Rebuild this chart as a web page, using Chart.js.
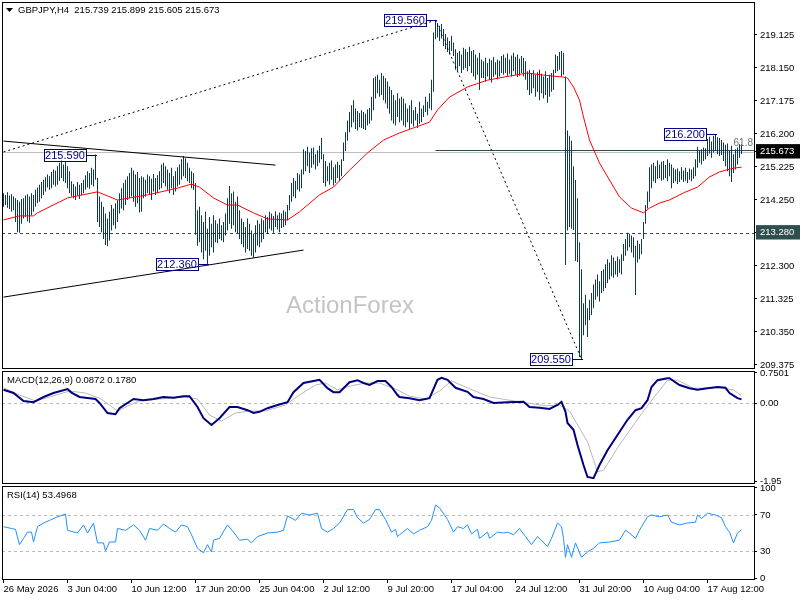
<!DOCTYPE html>
<html>
<head>
<meta charset="utf-8">
<script src="https://cdn.jsdelivr.net/npm/chart.js@4/dist/chart.umd.min.js"></script>
<style>
  html, body { margin: 0; background: #fff; }
  canvas { position: absolute; left: 0; top: 0; }
</style>
</head>
<body>
<canvas id="main" width="800" height="600"></canvas>
<canvas id="macd" width="800" height="600"></canvas>
<canvas id="rsi" width="800" height="600"></canvas>
<script>
// ---- data (bar index = H4 bar, 0 = 26 May 2026) ----
const symbol = "GBPJPY,H4";
const ohlcLast = [215.739, 215.899, 215.605, 215.673];

const highs = [
  214.45, 214.40, 214.48, 214.38, 214.42, 214.35, 214.30, 214.25, 214.20, 214.28,
  214.30, 214.38, 214.42, 214.35, 214.45, 214.40, 214.55, 214.62, 214.70, 214.78,
  214.85, 214.92, 215.00, 214.95, 215.08, 215.15, 215.12, 215.25, 215.35, 215.42,
  215.30, 215.38, 215.25, 215.10, 214.80, 214.72, 214.65, 214.78, 214.70, 214.75,
  214.85, 214.98, 215.10, 215.05, 215.20, 215.15, 215.59, 214.90, 214.35, 214.20,
  214.05, 213.85, 213.70, 213.90, 214.10, 214.00, 214.15, 214.25, 214.45, 214.60,
  214.75, 214.85, 214.95, 215.05, 215.20, 215.12, 215.00, 215.08, 214.90, 214.95,
  214.92, 214.85, 215.00, 214.95, 214.88, 215.02, 214.90, 214.98, 215.10, 215.30,
  215.35, 215.25, 215.15, 215.05, 215.20, 214.95, 215.10, 215.22, 215.30, 215.45,
  215.55, 215.48, 215.35, 215.20, 215.10, 215.05, 214.75, 213.95, 214.05, 213.80,
  213.60, 213.90, 213.40, 213.75, 213.55, 213.80, 213.65, 213.55, 213.70, 213.50,
  213.60, 213.85, 214.30, 214.66, 214.45, 214.50, 214.20, 214.35, 213.95, 213.70,
  213.60, 213.45, 213.70, 213.55, 213.35, 213.25, 213.50, 213.65, 213.55, 213.70,
  213.65, 213.80, 213.75, 213.90, 213.85, 213.78, 213.92, 213.80, 213.88, 213.85,
  213.95, 213.90, 214.10, 214.40, 214.75, 214.90, 214.82, 215.05, 215.00, 215.15,
  215.75, 215.70, 215.82, 215.65, 215.78, 215.80, 215.60, 215.72, 215.85, 216.08,
  215.60, 215.40, 215.25, 215.35, 215.42, 215.22, 215.30, 215.38, 215.28, 215.45,
  215.95, 216.25, 216.60, 216.85, 217.05, 217.20, 216.95, 216.88, 216.82, 216.90,
  216.85, 216.80, 216.92, 216.97, 217.30, 217.85, 217.90, 217.95, 217.80, 218.00,
  217.92, 217.85, 217.75, 217.60, 217.50, 217.35, 217.20, 217.40, 217.25, 217.30,
  217.25, 217.10, 216.95, 217.05, 217.20, 216.90, 217.00, 216.80, 217.15, 216.95,
  217.05, 217.30, 217.15, 217.40, 217.80, 219.20, 219.56, 219.48, 219.40, 219.45,
  219.30, 219.15, 219.05, 218.95, 219.10, 218.90, 218.70, 218.60, 218.65, 218.55,
  218.75, 218.70, 218.62, 218.78, 218.65, 218.68, 218.55, 218.45, 218.60, 218.40,
  218.35, 218.45, 218.30, 218.42, 218.38, 218.47, 218.32, 218.40, 218.36, 218.50,
  218.55, 218.45, 218.58, 218.40, 218.52, 218.60, 218.48, 218.55, 218.42, 218.50,
  218.45, 218.35, 218.05, 218.10, 218.00, 218.08, 217.95, 218.02, 218.10, 217.98,
  217.90, 218.05, 217.85, 217.95, 218.00, 218.10, 218.55, 218.50, 218.62, 218.65,
  218.60, 217.90, 216.30, 216.15, 216.00, 215.25, 214.84, 214.30, 213.00, 212.20,
  211.20, 211.45, 211.05, 211.30, 211.50, 211.75, 211.90, 212.05, 211.85, 212.15,
  212.20, 212.35, 212.50, 212.40, 212.62, 212.55, 212.45, 212.58, 212.50, 212.65,
  212.95, 213.10, 213.28, 213.25, 213.20, 213.15, 212.90, 213.05, 212.95, 213.10,
  213.60, 214.10, 214.50, 215.22, 215.30, 215.35, 215.25, 215.42, 215.30, 215.38,
  215.40, 215.28, 215.45, 215.35, 215.30, 215.20, 215.15, 215.18, 215.10, 215.22,
  215.12, 215.20, 215.08, 215.18, 215.15, 215.22, 215.45, 215.82, 215.70, 215.75,
  215.80, 215.78, 216.05, 216.12, 215.98, 216.15, 216.20, 216.10, 216.08, 216.02,
  215.95, 215.88, 215.92, 215.70, 215.85, 215.60, 215.75, 215.80, 215.90, 215.899
];
const lows = [
  214.05, 214.10, 214.02, 213.98, 213.90, 213.95, 213.60, 213.30, 213.28, 213.55,
  213.70, 213.75, 213.62, 213.58, 213.80, 213.90, 214.05, 214.15, 214.20, 214.30,
  214.40, 214.50, 214.62, 214.55, 214.60, 214.70, 214.65, 214.70, 214.82, 214.90,
  214.80, 214.75, 214.60, 214.45, 214.35, 214.30, 214.25, 214.38, 214.28, 214.40,
  214.45, 214.55, 214.62, 214.58, 214.70, 214.65, 214.85, 213.60, 213.45, 213.30,
  213.10, 212.92, 212.88, 213.05, 213.35, 213.50, 213.40, 213.60, 213.85, 214.00,
  213.95, 214.10, 214.25, 214.30, 214.35, 214.20, 214.05, 214.15, 213.88, 213.90,
  214.30, 214.35, 214.45, 214.40, 214.25, 214.50, 214.40, 214.45, 214.55, 214.60,
  214.75, 214.65, 214.55, 214.45, 214.60, 214.40, 214.50, 214.65, 214.70, 214.85,
  214.95, 214.90, 214.80, 214.75, 214.60, 214.55, 213.22, 212.90, 213.00, 212.70,
  212.50, 212.75, 212.36, 212.60, 212.85, 212.70, 213.00, 212.98, 213.10, 213.05,
  213.00, 213.20, 213.35, 213.55, 213.40, 213.50, 213.30, 213.25, 213.10, 212.95,
  212.85, 212.70, 212.80, 212.75, 212.60, 212.54, 212.70, 212.90, 212.85, 213.00,
  213.10, 213.30, 213.25, 213.40, 213.35, 213.28, 213.45, 213.38, 213.30, 213.42,
  213.45, 213.50, 213.65, 213.95, 214.20, 214.35, 214.30, 214.55, 214.50, 214.60,
  215.00, 215.10, 215.25, 215.05, 215.20, 215.30, 215.15, 215.25, 215.35, 215.45,
  214.75, 214.65, 214.80, 214.70, 214.85, 214.68, 214.75, 214.90, 214.80, 214.95,
  215.40, 215.70, 216.00, 216.25, 216.40, 216.55, 216.35, 216.30, 216.40, 216.38,
  216.35, 216.32, 216.45, 216.50, 216.60, 216.90, 217.25, 217.40, 217.30, 217.35,
  217.20, 217.10, 216.95, 216.80, 216.60, 216.50, 216.45, 216.70, 216.55, 216.60,
  216.45, 216.40, 216.55, 216.35, 216.50, 216.42, 216.60, 216.38, 216.50, 216.55,
  216.70, 216.85, 216.75, 216.95, 216.90, 217.45, 219.00, 219.05, 218.95, 219.02,
  218.80, 218.70, 218.62, 218.55, 218.65, 218.50, 218.10, 218.05, 218.20, 218.00,
  218.10, 218.15, 218.05, 218.20, 218.00, 217.90, 217.80, 217.95, 217.50, 217.85,
  217.85, 217.75, 217.90, 217.80, 217.72, 217.88, 217.95, 217.82, 217.90, 218.00,
  217.95, 218.00, 217.92, 217.98, 217.90, 218.05, 217.95, 217.88, 217.92, 218.00,
  217.90, 217.80, 217.50, 217.35, 217.40, 217.55, 217.30, 217.45, 217.20, 217.40,
  217.25, 217.35, 217.12, 217.30, 217.45, 217.50, 218.00, 218.05, 218.10, 217.90,
  217.95, 212.33, 213.35, 213.45, 213.40, 213.36, 212.45, 212.42, 209.62, 209.55,
  210.25, 210.55, 210.20, 210.70, 210.85, 211.05, 211.30, 211.40, 211.25, 211.50,
  211.55, 211.65, 211.80, 211.90, 212.00, 211.95, 212.05, 211.98, 212.10, 212.05,
  212.45, 212.60, 212.75, 212.85, 212.70, 212.55, 211.44, 212.40, 212.50, 212.65,
  213.10, 213.55, 214.00, 214.20, 214.60, 214.80, 214.75, 214.88, 214.90, 214.82,
  214.85, 214.90, 214.80, 214.95, 214.60, 214.75, 214.80, 214.72, 214.78, 214.85,
  214.78, 214.82, 214.75, 214.85, 214.80, 214.88, 214.95, 215.20, 215.35, 215.30,
  215.40, 215.45, 215.55, 215.62, 215.50, 215.65, 215.70, 215.60, 215.55, 215.58,
  215.40, 215.25, 215.10, 214.95, 214.78, 215.05, 215.15, 215.30, 215.50, 215.605
];

// red moving average, sampled
const maIdx = [0, 8, 15, 17, 32, 47, 57, 72, 87, 94, 98, 105, 112, 117, 125, 132, 142, 148, 158, 165,
  173, 182, 190, 198, 213, 217, 223, 232, 242, 253, 262, 270, 280, 282, 285, 288, 290, 293, 298, 303,
  308, 314, 320, 323, 328, 333, 340, 347, 353, 358, 365, 369];
const maVal = [213.66, 213.78, 213.78, 213.87, 214.31, 214.49, 214.25, 214.40, 214.60, 214.72, 214.63, 214.31, 214.10, 214.10, 213.87, 213.69, 213.66, 213.90, 214.40, 214.63,
  215.13, 215.64, 216.02, 216.23, 216.55, 216.91, 217.29, 217.59, 217.79, 217.91, 218.00, 217.94, 217.88, 217.85, 217.59, 217.20, 216.70, 216.02, 215.34, 214.84,
  214.34, 214.01, 213.87, 214.01, 214.16, 214.25, 214.46, 214.63, 214.93, 215.08, 215.19, 215.22];

// drawn objects
const resistIdx = [0, 136], resistVal = [215.99, 215.28];
const supportIdx = [0, 150], supportVal = [211.38, 212.77];
const riseIdx = [0, 216], riseVal = [215.67, 219.56];
const fallIdx = [216, 289], fallVal = [219.56, 209.55];
const markIdx = [46, 102, 216, 289, 356];
const markVal = [215.590, 212.360, 219.560, 209.550, 216.200];
const supportLevel = 213.280;
const fibFrom = 216, fibLevel = 215.736, fibText = "61.8";
const watermark = "ActionForex";

const priceTicks = [209.375, 210.350, 211.325, 212.300, 213.280, 214.250, 215.225, 215.673, 216.200, 217.175, 218.150, 219.125];
const priceBoxes = [215.673, 213.280];
const priceBoxColors = ["#000000", "#2f4f4f"];

// MACD(12,26,9)
const macdIdx = [0, 5, 10, 15, 20, 25, 32, 34, 38, 46, 48, 52, 56, 58, 65, 70, 75, 80, 85, 90,
  93, 97, 100, 104, 108, 113, 117, 122, 125, 128, 132, 137, 142, 145, 150, 155, 158, 162, 165, 168,
  173, 177, 180, 183, 187, 191, 194, 197, 198, 203, 208, 213, 217, 219, 222, 226, 232, 235, 240, 245,
  252, 260, 263, 268, 273, 277, 279, 281, 282, 285, 287, 290, 292, 295, 298, 302, 307, 312, 316, 319,
  322, 324, 327, 332, 333, 338, 343, 347, 352, 357, 361, 363, 367, 369];
const macdVal = [0.33, 0.25, 0.05, 0.02, 0.15, 0.25, 0.35, 0.26, 0.15, 0.10, 0.00, -0.25, -0.28, -0.13, 0.10, 0.07, 0.10, 0.15, 0.13, 0.17,
  0.17, -0.10, -0.38, -0.55, -0.38, -0.10, -0.10, -0.18, -0.25, -0.22, -0.13, -0.05, 0.02, 0.27, 0.50, 0.55, 0.58, 0.37, 0.27, 0.27,
  0.52, 0.57, 0.50, 0.45, 0.55, 0.55, 0.40, 0.20, 0.15, 0.12, 0.07, 0.12, 0.58, 0.63, 0.58, 0.38, 0.28, 0.15, 0.10, 0.00,
  0.02, 0.03, -0.10, -0.12, -0.15, -0.05, 0.03, -0.22, -0.50, -0.67, -1.05, -1.55, -1.85, -1.88, -1.55, -1.18, -0.80, -0.42, -0.18, -0.13,
  0.07, 0.40, 0.57, 0.62, 0.62, 0.45, 0.37, 0.33, 0.37, 0.40, 0.38, 0.25, 0.12, 0.09];
const signalIdx = [0, 8, 16, 23, 33, 41, 48, 53, 57, 62, 68, 78, 91, 97, 103, 109, 116, 123, 131, 141,
  148, 156, 161, 167, 173, 181, 188, 196, 203, 211, 218, 224, 231, 243, 258, 271, 278, 283, 292, 297,
  300, 307, 315, 323, 332, 337, 345, 358, 365, 369];
const signalVal = [0.38, 0.20, 0.05, 0.15, 0.30, 0.25, 0.12, -0.05, -0.20, -0.08, 0.05, 0.10, 0.15, 0.10, -0.30, -0.45, -0.25, -0.20, -0.20, -0.05,
  0.20, 0.45, 0.50, 0.33, 0.42, 0.50, 0.50, 0.35, 0.17, 0.10, 0.30, 0.55, 0.40, 0.15, 0.03, -0.07, -0.05, -0.20, -0.97, -1.72,
  -1.68, -1.12, -0.55, 0.00, 0.57, 0.57, 0.37, 0.38, 0.33, 0.18];
const macdTicks = [-1.95, 0, 0.7501];
const macdTickText = ["-1.95", "0.00", "0.7501"];
const macdLast = ["0.0872", "0.1780"];

// RSI(14)
const rsiIdx = [0, 4, 6, 8, 10, 12, 14, 15, 17, 20, 23, 27, 31, 32, 37, 40, 42, 45, 47, 50,
  51, 53, 56, 57, 61, 65, 68, 71, 73, 77, 80, 83, 86, 89, 92, 94, 97, 100, 102, 104,
  105, 108, 112, 115, 118, 122, 124, 127, 132, 137, 140, 142, 146, 149, 153, 157, 159, 162, 165, 168,
  172, 175, 177, 180, 183, 186, 188, 191, 194, 196, 197, 198, 202, 205, 208, 212, 214, 216, 218, 222,
  225, 227, 230, 232, 234, 237, 238, 242, 243, 247, 250, 252, 255, 258, 261, 264, 267, 272, 274, 277,
  279, 280, 281, 282, 284, 286, 289, 292, 295, 298, 303, 308, 311, 313, 316, 318, 322, 324, 328, 332,
  334, 338, 342, 346, 347, 349, 352, 356, 359, 361, 363, 365, 367, 369];
const rsiVal = [57, 55, 54, 37, 44, 51, 51, 40, 57, 61, 64, 68, 71, 53, 50, 59, 50, 61, 39, 39,
  30, 40, 40, 55, 53, 59, 53, 42, 55, 53, 60, 55, 51, 59, 57, 48, 33, 28, 37, 29,
  42, 44, 59, 51, 42, 43, 39, 46, 50, 51, 53, 69, 64, 72, 70, 72, 55, 51, 55, 61,
  76, 76, 67, 61, 65, 76, 76, 65, 51, 54, 46, 48, 55, 49, 53, 57, 64, 81, 78, 65,
  51, 57, 55, 59, 49, 54, 44, 51, 44, 51, 50, 51, 48, 55, 46, 37, 46, 35, 44, 61,
  57, 44, 23, 37, 23, 39, 23, 29, 33, 39, 40, 42, 53, 50, 44, 53, 68, 70, 68, 70,
  62, 59, 61, 62, 70, 66, 72, 70, 67, 57, 51, 39, 50, 53.5];
const rsiTicks = [0, 30, 70, 100];
const rsiLevels = [30, 70];
const rsiLast = "53.4968";

const timeIdx = [0, 32, 64, 96, 128, 160, 192, 224, 256, 288, 320, 352];
const timeLabels = ["26 May 2026", "3 Jun 04:00", "10 Jun 12:00", "17 Jun 20:00", "25 Jun 04:00", "2 Jul 12:00",
  "9 Jul 20:00", "17 Jul 04:00", "24 Jul 12:00", "31 Jul 20:00", "10 Aug 04:00", "17 Aug 12:00"];

// ---- drawing ----
const FONT = '"Liberation Sans", Arial, sans-serif';
Chart.defaults.font.family = FONT;
const X_MIN = -0.75, X_MAX = 375.25;   // 2 px per bar

const pts = (xs, ys) => xs.map((v, k) => ({ x: v, y: ys[k] }));

function hiddenX() {
  return { type: "linear", display: false, min: X_MIN, max: X_MAX, offset: false, grid: { offset: false } };
}

function rightAxis(min, max, tickVals, fmt, extra) {
  return {
    position: "right", min, max,
    afterBuildTicks: s => { s.ticks = tickVals.map(v => ({ value: v })); },
    afterFit: s => { s.width = 46; s.paddingTop = 0; s.paddingBottom = 0; },
    border: { display: false },
    grid: { drawOnChartArea: false, tickLength: 3, color: "#000" },
    ticks: Object.assign({
      autoSkip: false, crossAlign: "near", padding: 3, color: "#000",
      font: { family: FONT, size: 9.5 }, callback: fmt
    }, extra || {})
  };
}

function frame(chart) {
  const { ctx, chartArea: a } = chart;
  ctx.save();
  ctx.strokeStyle = "#000";
  ctx.lineWidth = 1;
  ctx.strokeRect(a.left + 0.5, a.top + 0.5, a.width, a.height);
  ctx.restore();
}

function hline(ctx, x1, x2, py, color, dash) {
  const y = Math.round(py) + 0.5;
  ctx.save();
  ctx.strokeStyle = color;
  ctx.lineWidth = 1;
  ctx.setLineDash(dash);
  ctx.beginPath();
  ctx.moveTo(x1, y);
  ctx.lineTo(x2, y);
  ctx.stroke();
  ctx.restore();
}

function caption(chart, text) {
  const { ctx, chartArea: a } = chart;
  ctx.save();
  ctx.fillStyle = "#000";
  ctx.font = "9.5px " + FONT;
  ctx.textAlign = "left";
  ctx.textBaseline = "middle";
  ctx.fillText(text, a.left + 5, a.top + 9);
  ctx.restore();
}

const common = {
  responsive: false,
  animation: false,
  events: [],
  plugins: { legend: { display: false }, tooltip: { enabled: false } }
};

// main price window
const mainDecor = {
  id: "mainDecor",
  beforeDatasetsDraw(chart) {
    const { ctx, chartArea: a, scales: { x, y } } = chart;
    ctx.save();
    ctx.fillStyle = "#c4c4c4";
    ctx.font = "24px " + FONT;
    ctx.textAlign = "center";
    ctx.textBaseline = "middle";
    ctx.fillText(watermark, a.left + 348, a.top + 304);
    ctx.restore();
    hline(ctx, a.left, a.right, y.getPixelForValue(ohlcLast[3]), "#c0c0c0", []);
    hline(ctx, a.left, a.right, y.getPixelForValue(supportLevel), "#2f4f4f", [3, 3]);
    hline(ctx, x.getPixelForValue(fibFrom), a.right, y.getPixelForValue(fibLevel), "#2f4f4f", []);
  },
  afterDatasetsDraw(chart) {
    const { ctx, chartArea: a, scales: { x, y } } = chart;
    ctx.save();
    ctx.lineWidth = 1;
    ctx.strokeStyle = "#000080";
    ctx.fillStyle = "#000080";
    ctx.font = "11px " + FONT;
    ctx.textAlign = "center";
    ctx.textBaseline = "middle";
    markIdx.forEach((mi, k) => {
      const px = Math.round(x.getPixelForValue(mi));
      const py = Math.round(y.getPixelForValue(markVal[k]));
      const r = px - 10;
      ctx.strokeRect(r - 42 + 0.5, py - 6 + 0.5, 42, 12);
      ctx.beginPath();
      ctx.moveTo(r, py + 0.5);
      ctx.lineTo(px + 1, py + 0.5);
      ctx.stroke();
      ctx.fillText(markVal[k].toFixed(3), r - 21, py + 1);
    });
    ctx.fillStyle = "#707070";
    ctx.font = "10px " + FONT;
    ctx.textAlign = "right";
    ctx.textBaseline = "bottom";
    ctx.fillText(fibText, a.right - 1, y.getPixelForValue(fibLevel) - 1);
    ctx.restore();
  },
  afterDraw(chart) {
    frame(chart);
    const { ctx } = chart;
    ctx.save();
    ctx.fillStyle = "#000";
    ctx.beginPath();
    ctx.moveTo(6, 8);
    ctx.lineTo(13, 8);
    ctx.lineTo(9.5, 12);
    ctx.closePath();
    ctx.fill();
    ctx.font = "9.5px " + FONT;
    ctx.textBaseline = "middle";
    ctx.fillText(symbol + "  " + ohlcLast.map(v => v.toFixed(3)).join(" "), 18, 10.5);
    ctx.restore();
  }
};

new Chart(document.getElementById("main"), {
  type: "bar",
  data: {
    datasets: [
      { type: "line", data: pts(maIdx, maVal), borderColor: "#ff0000", borderWidth: 1, pointRadius: 0, tension: 0 },
      { type: "line", data: pts(resistIdx, resistVal), borderColor: "#000", borderWidth: 1, pointRadius: 0 },
      { type: "line", data: pts(supportIdx, supportVal), borderColor: "#000", borderWidth: 1, pointRadius: 0 },
      { type: "line", data: pts(riseIdx, riseVal), borderColor: "#000", borderWidth: 1, borderDash: [2, 3], pointRadius: 0 },
      { type: "line", data: pts(fallIdx, fallVal), borderColor: "#000", borderWidth: 1, borderDash: [2, 3], pointRadius: 0 },
      {
        type: "bar",
        data: highs.map((h, i) => ({ x: i, y: [lows[i], h] })),
        backgroundColor: "#0e3a58",
        borderWidth: 0,
        barThickness: 1,
        inflateAmount: 0
      }
    ]
  },
  options: Object.assign({}, common, {
    layout: { padding: { top: 2, left: 2, right: 0, bottom: 232 } },
    scales: {
      x: hiddenX(),
      y: rightAxis(209.286, 220.099, priceTicks, v => v.toFixed(3), {
        showLabelBackdrop: c => priceBoxes.indexOf(c.tick.value) >= 0,
        backdropColor: c => priceBoxColors[Math.max(priceBoxes.indexOf(c.tick.value), 0)],
        backdropPadding: { left: 4, right: 10, top: 2, bottom: 1 },
        color: c => priceBoxes.indexOf(c.tick.value) >= 0 ? "#fff" : "#000"
      })
    }
  }),
  plugins: [mainDecor]
});

// MACD window
new Chart(document.getElementById("macd"), {
  type: "line",
  data: {
    datasets: [
      { data: pts(macdIdx, macdVal), borderColor: "#000080", borderWidth: 2, pointRadius: 0, tension: 0 },
      { data: pts(signalIdx, signalVal), borderColor: "#b8b8b8", borderWidth: 1, pointRadius: 0, tension: 0 }
    ]
  },
  options: Object.assign({}, common, {
    layout: { padding: { top: 371, left: 2, right: 0, bottom: 117 } },
    scales: {
      x: hiddenX(),
      y: rightAxis(-2.0, 0.8, macdTicks, (v, i) => macdTickText[i])
    }
  }),
  plugins: [{
    id: "macdDecor",
    beforeDatasetsDraw(chart) {
      const { ctx, chartArea: a, scales: { y } } = chart;
      hline(ctx, a.left, a.right, y.getPixelForValue(0), "#b8b8b8", [3, 3]);
    },
    afterDraw(chart) {
      frame(chart);
      caption(chart, "MACD(12,26,9) " + macdLast.join(" "));
    }
  }]
});

// RSI window with the time axis
new Chart(document.getElementById("rsi"), {
  type: "line",
  data: {
    datasets: [
      { data: pts(rsiIdx, rsiVal), borderColor: "#1e90ff", borderWidth: 1, pointRadius: 0, tension: 0 }
    ]
  },
  options: Object.assign({}, common, {
    layout: { padding: { top: 486, left: 2, right: 0, bottom: 0 } },
    scales: {
      x: {
        type: "linear", min: X_MIN, max: X_MAX, offset: false,
        afterBuildTicks: s => { s.ticks = timeIdx.map(v => ({ value: v })); },
        afterFit: s => { s.height = 21; s.paddingLeft = 0; s.paddingRight = 0; },
        border: { display: false },
        grid: { drawOnChartArea: false, tickLength: 4, color: "#000", offset: false },
        ticks: {
          autoSkip: false, maxRotation: 0, minRotation: 0, align: "start", padding: 1,
          color: "#000", font: { family: FONT, size: 9.5 },
          callback: (v, i) => timeLabels[i]
        }
      },
      y: rightAxis(-1.1, 102.2, rsiTicks, v => String(v))
    }
  }),
  plugins: [{
    id: "rsiDecor",
    beforeDatasetsDraw(chart) {
      const { ctx, chartArea: a, scales: { y } } = chart;
      rsiLevels.forEach(l => hline(ctx, a.left, a.right, y.getPixelForValue(l), "#b8b8b8", [3, 3]));
    },
    afterDraw(chart) {
      frame(chart);
      caption(chart, "RSI(14) " + rsiLast);
    }
  }]
});
</script>
</body>
</html>
